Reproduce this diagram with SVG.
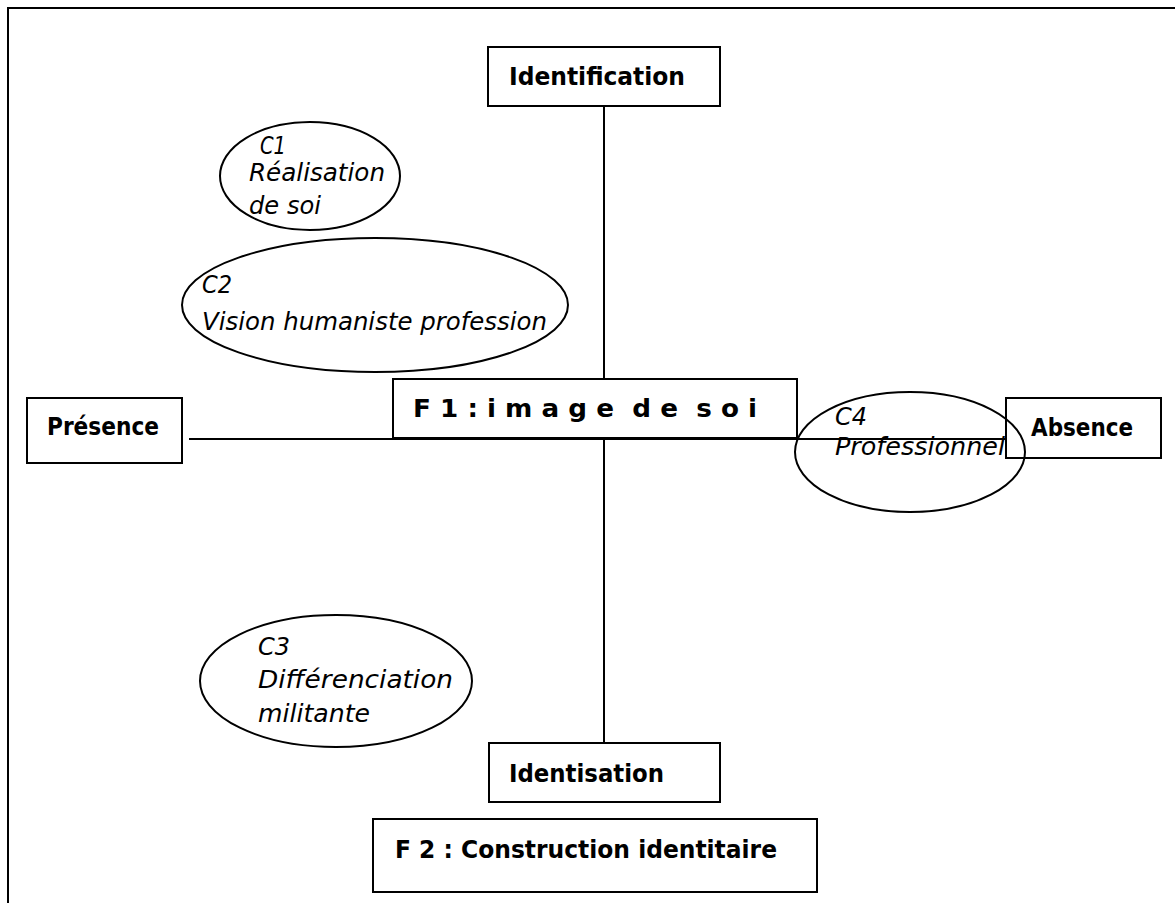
<svg xmlns="http://www.w3.org/2000/svg" width="1175" height="903" viewBox="0 0 1175 903">
<style>
.box{fill:#fff;stroke:#000;stroke-width:2}
.ell{fill:none;stroke:#000;stroke-width:2}
.ln{stroke:#000;stroke-width:2;fill:none}
.b{font-family:"DejaVu Sans","Liberation Sans",sans-serif;font-weight:bold;font-size:24px;fill:#000;white-space:pre}
.i{font-family:"DejaVu Sans","Liberation Sans",sans-serif;font-style:italic;font-size:24px;fill:#000}
</style>
<rect width="1175" height="903" fill="#fff"/>
<path class="ln" d="M8,903 V8 H1175"/>
<g id="connectors">
<line class="ln" x1="604" y1="106" x2="604" y2="379"/>
<line class="ln" x1="604" y1="439" x2="604" y2="743"/>
<line class="ln" x1="189" y1="439" x2="1017" y2="439"/>
</g>
<g id="identification">
<rect class="box" x="488" y="47" width="232" height="59"/>
<text class="b" x="509" y="85" textLength="176" lengthAdjust="spacingAndGlyphs">Identification</text>
</g>
<g id="presence">
<rect class="box" x="27" y="398" width="155" height="65"/>
<text class="b" x="47" y="435" textLength="112" lengthAdjust="spacingAndGlyphs">Présence</text>
</g>
<g id="f1">
<rect class="box" x="393" y="379" width="404" height="59"/>
<text class="b" x="413" y="417" textLength="344" lengthAdjust="spacingAndGlyphs" xml:space="preserve">F 1 : i m a g e  d e  s o i</text>
</g>
<g id="absence">
<rect class="box" x="1006" y="398" width="155" height="60"/>
<text class="b" x="1031" y="436" textLength="102" lengthAdjust="spacingAndGlyphs">Absence</text>
</g>
<g id="identisation">
<rect class="box" x="489" y="743" width="231" height="59"/>
<text class="b" x="509" y="782" textLength="155" lengthAdjust="spacingAndGlyphs">Identisation</text>
</g>
<g id="f2">
<rect class="box" x="373" y="819" width="444" height="73"/>
<text class="b" x="395" y="858" textLength="382" lengthAdjust="spacingAndGlyphs">F 2 : Construction identitaire</text>
</g>
<g id="c1">
<ellipse class="ell" cx="310" cy="176" rx="90" ry="54"/>
<text class="i" x="260" y="154" textLength="26" lengthAdjust="spacingAndGlyphs">C1</text>
<text class="i" x="249" y="181" textLength="136" lengthAdjust="spacingAndGlyphs">Réalisation</text>
<text class="i" x="249" y="214" textLength="72" lengthAdjust="spacingAndGlyphs">de soi</text>
</g>
<g id="c2">
<ellipse class="ell" cx="375" cy="305" rx="193" ry="67"/>
<text class="i" x="202" y="293" textLength="30" lengthAdjust="spacingAndGlyphs">C2</text>
<text class="i" x="202" y="330" textLength="345" lengthAdjust="spacingAndGlyphs">Vision humaniste profession</text>
</g>
<g id="c4">
<ellipse class="ell" cx="910" cy="452" rx="115" ry="60"/>
<text class="i" x="835" y="425" textLength="32" lengthAdjust="spacingAndGlyphs">C4</text>
<text class="i" x="835" y="455" textLength="170" lengthAdjust="spacingAndGlyphs">Professionnel</text>
</g>
<g id="c3">
<ellipse class="ell" cx="336" cy="681" rx="136" ry="66"/>
<text class="i" x="258" y="655" textLength="32" lengthAdjust="spacingAndGlyphs">C3</text>
<text class="i" x="258" y="688" textLength="195" lengthAdjust="spacingAndGlyphs">Différenciation</text>
<text class="i" x="258" y="722" textLength="112" lengthAdjust="spacingAndGlyphs">militante</text>
</g>
</svg>
